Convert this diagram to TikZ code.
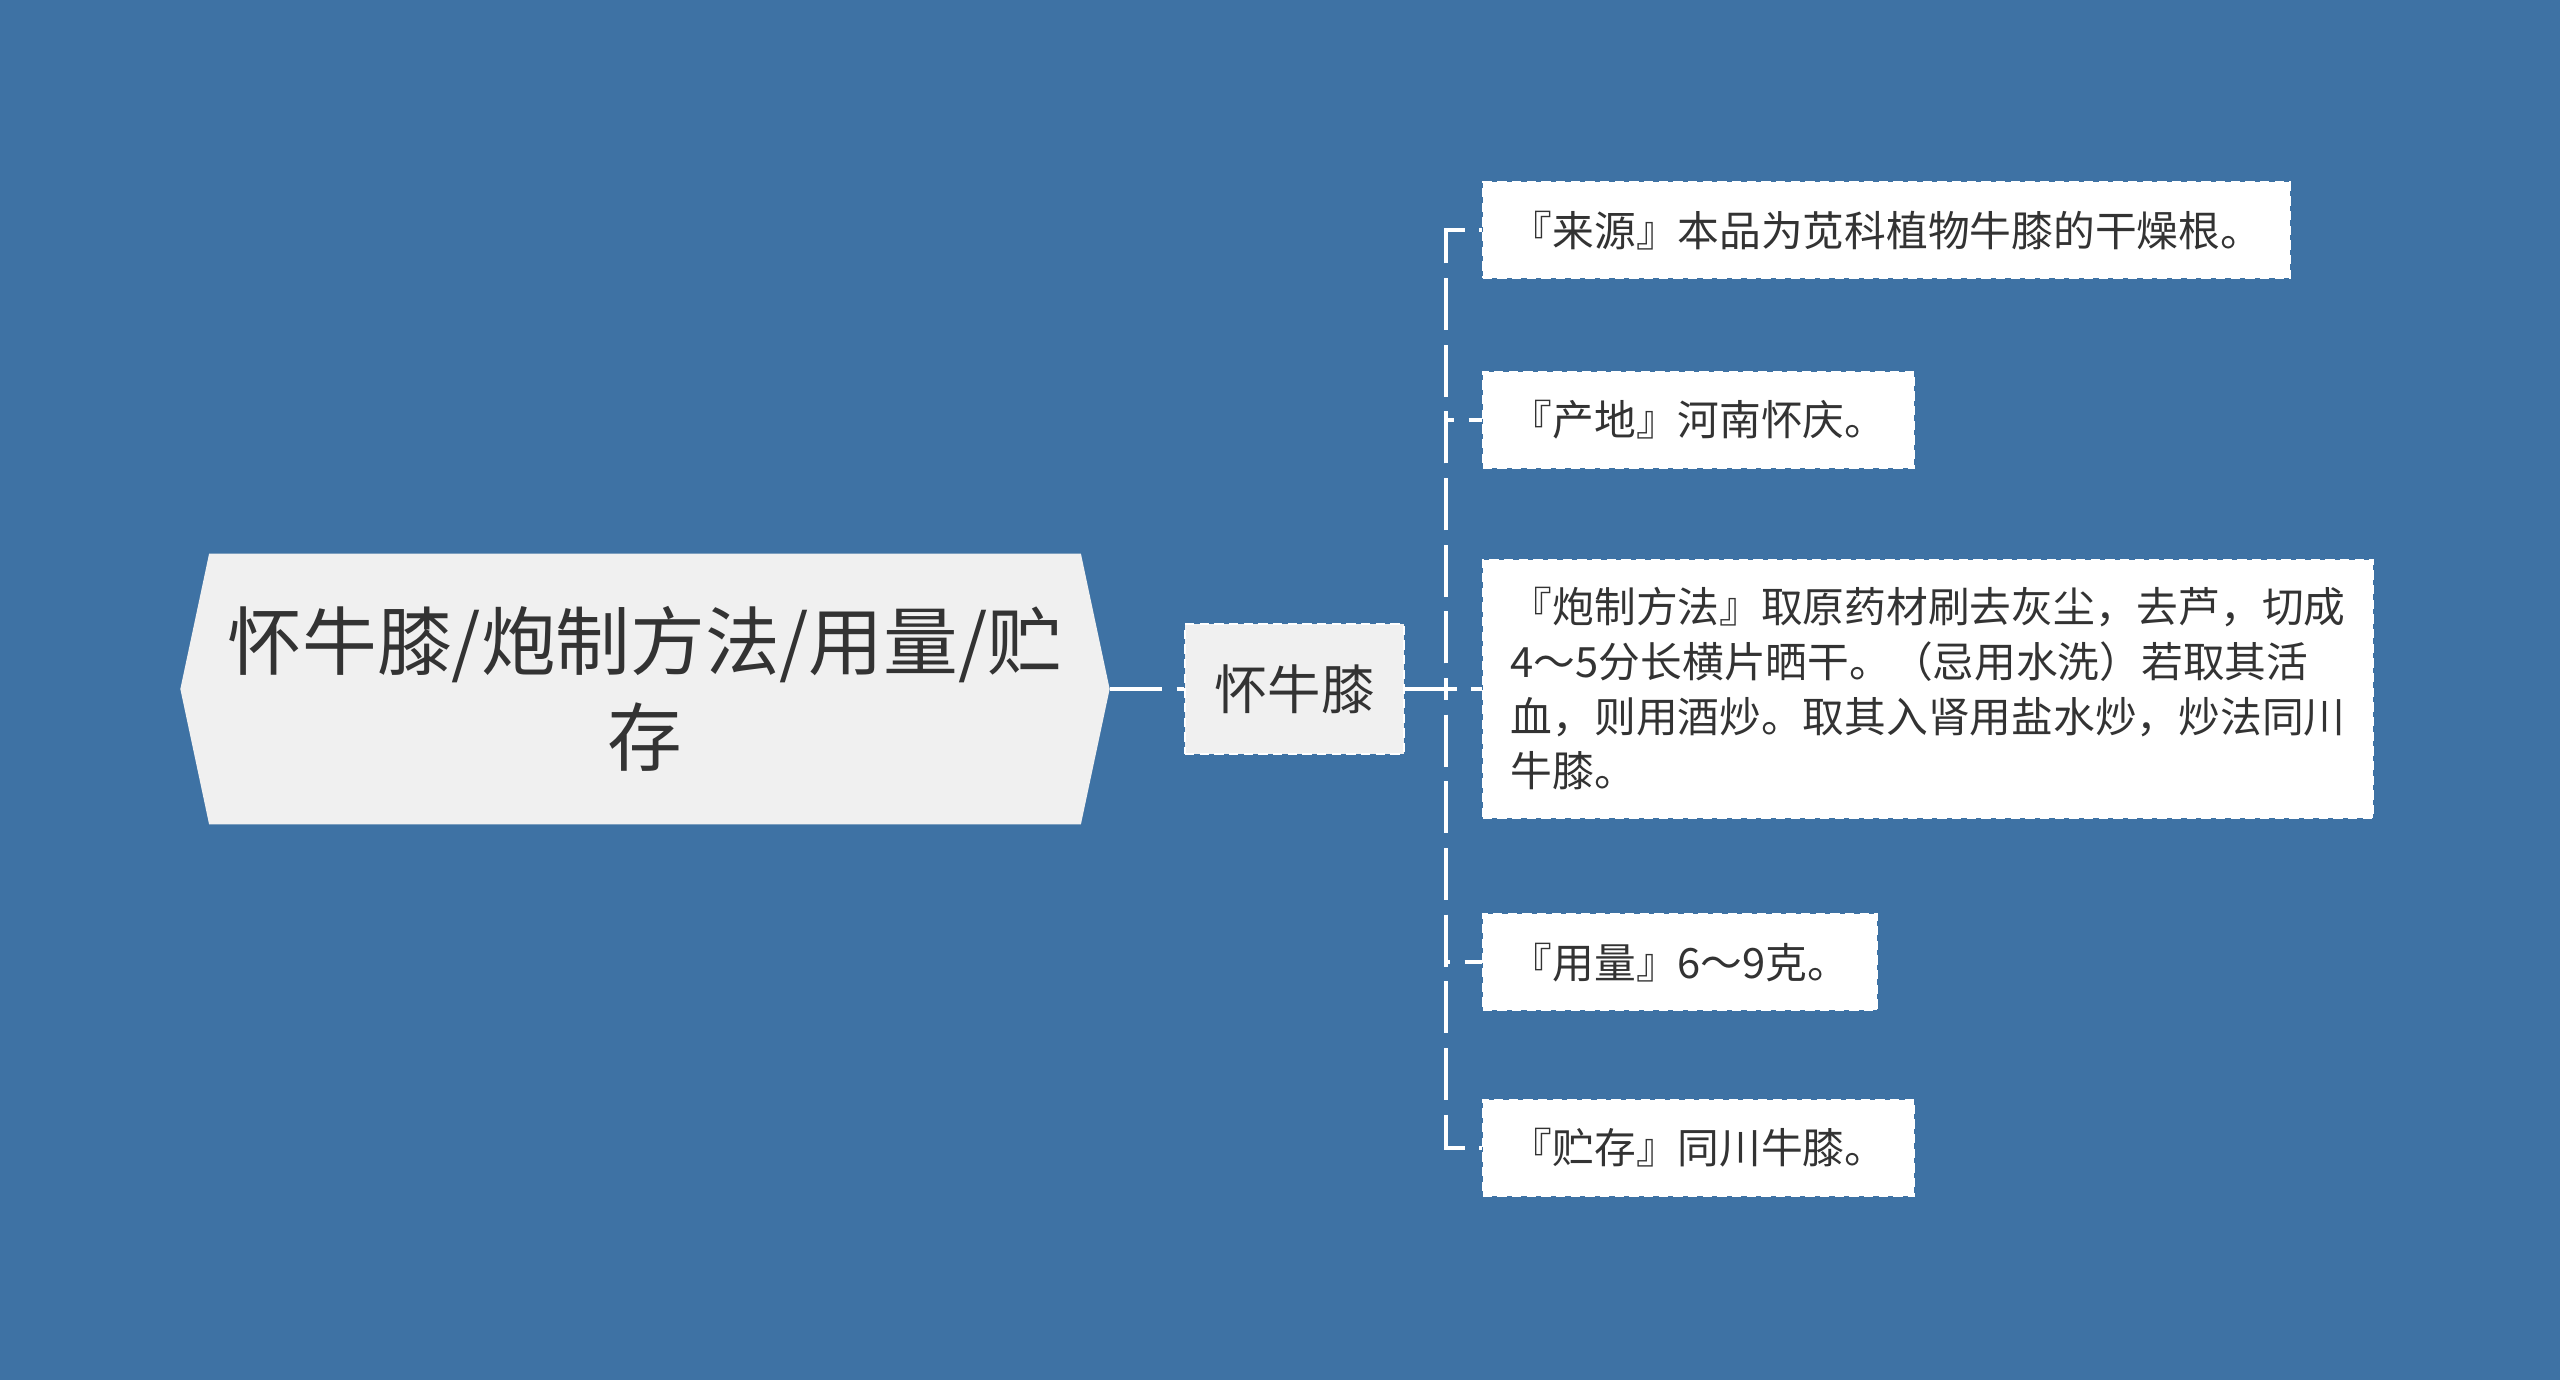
\documentclass[tikz,border=0pt]{standalone}
\usepackage{fontspec}
\newfontfamily\cjk{Noto Sans CJK SC}
\usetikzlibrary{trees,shapes.symbols}
\definecolor{bgblue}{RGB}{62,114,164}
\definecolor{nodegray}{RGB}{240,240,240}
\definecolor{inkgray}{RGB}{51,51,51}

\begin{document}
\begin{tikzpicture}[
  x=0.75pt, y=-0.75pt,
  every node/.style={font=\cjk, text=inkgray},
  rootnode/.style={signal, signal to=west and east, signal pointer angle=156, fill=nodegray,
    minimum width=697pt, minimum height=203pt, inner sep=0pt, align=center,
    font=\cjk\fontsize{56}{72}\selectfont},
  subnode/.style={fill=nodegray, draw=white, line width=1.5pt, dash pattern=on 7pt off 4pt,
    minimum width=164pt, minimum height=97pt, font=\cjk\fontsize{40}{48}\selectfont},
  leafnode/.style={fill=white, draw=white, line width=1.5pt, dash pattern=on 7pt off 4pt,
    anchor=west, align=left, inner xsep=21pt, inner ysep=21pt, minimum height=72pt,
    font=\cjk\fontsize{31.3}{41}\selectfont},
  grow'=right,
  edge from parent/.style={draw=white, line width=2.6pt, dash pattern=on 16pt off 11pt},
  level 1/.style={level distance=487pt,
    edge from parent/.style={draw=white, line width=3pt, dash pattern=on 39pt off 11pt},
    edge from parent path={(\tikzparentnode.east) -- (\tikzchildnode.west)}},
  level 2/.style={level distance=140.6pt, sibling distance=172pt,
    edge from parent path={(\tikzparentnode.east) -- ++(41,0) |- (\tikzchildnode.west)}}
]
\fill[bgblue] (0,0) rectangle (2560,1380);
\node[rootnode] (root) at (645,689) {怀牛膝/炮制方法/用量/贮\\存}
  child {node[subnode] (sub) {怀牛膝}
    child {node[leafnode] (source) {『来源』本品为苋科植物牛膝的干燥根。}}
    child[yshift=30pt] {node[leafnode] (origin) {『产地』河南怀庆。}}
    child {node[leafnode] (method) {『炮制方法』取原药材刷去灰尘，去芦，切成\\4～5分长横片晒干。（忌用水洗）若取其活\\血，则用酒炒。取其入肾用盐水炒，炒法同川\\牛膝。}}
    child[yshift=-33pt] {node[leafnode] (dose) {『用量』6～9克。}}
    child {node[leafnode] (store) {『贮存』同川牛膝。}}
  };
\end{tikzpicture}
\end{document}
